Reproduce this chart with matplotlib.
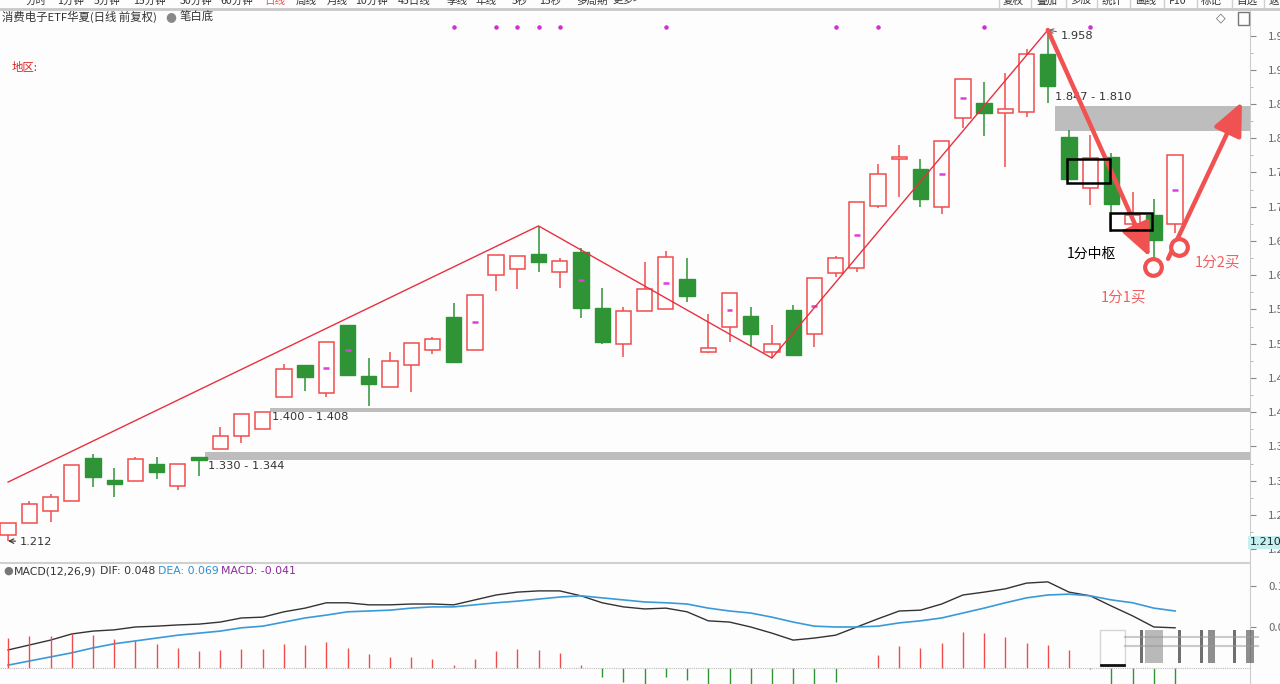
import numpy as np
import matplotlib.pyplot as plt

plt.rcParams['font.family'] = ['Noto Sans CJK SC', 'DejaVu Sans']

# daily candles
opens = [1.221, 1.238, 1.256, 1.270, 1.333, 1.301, 1.300, 1.324, 1.292, 1.331,
         1.346, 1.365, 1.376, 1.422, 1.469, 1.428, 1.527, 1.453, 1.437, 1.469,
         1.491, 1.539, 1.491, 1.600, 1.609, 1.631, 1.605, 1.634, 1.552, 1.500,
         1.548, 1.551, 1.594, 1.488, 1.524, 1.540, 1.488, 1.549, 1.514, 1.603,
         1.611, 1.701, 1.770, 1.755, 1.700, 1.830, 1.851, 1.837, 1.839, 1.923,
         1.802, 1.727, 1.773, 1.675, 1.688, 1.675]
closes = [1.238, 1.266, 1.276, 1.323, 1.305, 1.295, 1.332, 1.313, 1.324, 1.330,
          1.365, 1.397, 1.400, 1.463, 1.451, 1.502, 1.454, 1.441, 1.475, 1.501,
          1.507, 1.473, 1.571, 1.630, 1.628, 1.619, 1.621, 1.552, 1.502, 1.548,
          1.580, 1.627, 1.570, 1.494, 1.574, 1.514, 1.500, 1.484, 1.596, 1.625,
          1.707, 1.748, 1.773, 1.711, 1.796, 1.887, 1.837, 1.843, 1.923, 1.876,
          1.740, 1.771, 1.704, 1.688, 1.651, 1.775]
highs = [1.238, 1.270, 1.281, 1.323, 1.339, 1.319, 1.335, 1.335, 1.324, 1.331,
         1.378, 1.397, 1.400, 1.470, 1.469, 1.502, 1.527, 1.479, 1.488, 1.501,
         1.510, 1.559, 1.571, 1.630, 1.628, 1.672, 1.625, 1.640, 1.581, 1.554,
         1.619, 1.635, 1.625, 1.543, 1.574, 1.554, 1.527, 1.557, 1.596, 1.628,
         1.707, 1.762, 1.790, 1.770, 1.796, 1.887, 1.882, 1.895, 1.930, 1.958,
         1.812, 1.805, 1.778, 1.722, 1.711, 1.775]
lows = [1.212, 1.238, 1.240, 1.270, 1.291, 1.276, 1.300, 1.303, 1.286, 1.307,
        1.346, 1.355, 1.376, 1.422, 1.431, 1.422, 1.454, 1.409, 1.437, 1.430,
        1.485, 1.473, 1.491, 1.577, 1.580, 1.605, 1.581, 1.538, 1.500, 1.481,
        1.548, 1.551, 1.561, 1.486, 1.502, 1.495, 1.479, 1.484, 1.495, 1.597,
        1.605, 1.698, 1.714, 1.700, 1.689, 1.815, 1.803, 1.758, 1.831, 1.851,
        1.740, 1.703, 1.663, 1.656, 1.618, 1.662]

mid_marks = [15, 16, 22, 27, 31, 34, 38, 40, 44, 45, 55]
top_dots = [21, 23, 24, 25, 26, 31, 39, 41, 46, 51]

# stroke (bi) zigzag
zig_idx = [0, 25, 36, 49]
zig_price = [1.298, 1.672, 1.479, 1.958]

# MACD panel
dif = [-0.056, -0.044, -0.032, -0.017, -0.010, -0.007, 0.000, 0.002, 0.005, 0.007,
       0.012, 0.022, 0.024, 0.037, 0.046, 0.059, 0.059, 0.054, 0.054, 0.056,
       0.056, 0.054, 0.066, 0.078, 0.085, 0.088, 0.088, 0.076, 0.059, 0.049,
       0.044, 0.046, 0.037, 0.015, 0.012, 0.000, -0.015, -0.032, -0.027, -0.020,
       0.000, 0.020, 0.039, 0.041, 0.056, 0.078, 0.085, 0.093, 0.107, 0.110,
       0.085, 0.076, 0.051, 0.027, 0.000, -0.002]
dea = [-0.093, -0.083, -0.073, -0.063, -0.051, -0.041, -0.034, -0.027, -0.020, -0.015,
       -0.010, -0.002, 0.002, 0.012, 0.022, 0.029, 0.037, 0.039, 0.041, 0.046,
       0.049, 0.049, 0.054, 0.059, 0.063, 0.068, 0.073, 0.076, 0.071, 0.066,
       0.061, 0.059, 0.056, 0.046, 0.039, 0.034, 0.024, 0.012, 0.002, 0.000,
       0.000, 0.002, 0.010, 0.015, 0.022, 0.034, 0.046, 0.059, 0.071, 0.078,
       0.080, 0.076, 0.066, 0.059, 0.046, 0.039]
macd = [0.073, 0.077, 0.079, 0.085, 0.081, 0.071, 0.067, 0.059, 0.049, 0.041,
        0.043, 0.047, 0.047, 0.059, 0.056, 0.064, 0.049, 0.033, 0.027, 0.027,
        0.023, 0.008, 0.022, 0.041, 0.047, 0.045, 0.037, 0.008, -0.022, -0.033,
        -0.050, -0.022, -0.030, -0.045, -0.050, -0.050, -0.050, -0.045, -0.045, -0.033,
        0.001, 0.031, 0.054, 0.049, 0.061, 0.088, 0.085, 0.076, 0.060, 0.055,
        0.045, -0.003, -0.050, -0.050, -0.050, -0.050]

RED = '#f04c4c'
GREEN = '#2e9436'
GRAYTXT = '#333333'

W, H = 1280, 684
fig = plt.figure(figsize=(12.8, 6.84), dpi=100, facecolor='#fdfdfd')


def px(x, y):
    return x / W, 1 - y / H


# ---------------- main price panel ----------------
ax = fig.add_axes([0, 1 - 562 / H, 1250 / W, 553 / H], facecolor='#fdfdfd')
n = len(opens)
x = np.arange(n)
o, c, h, l = map(np.array, (opens, closes, highs, lows))
up = c >= o
cols = np.where(up, RED, GREEN)
bot = np.minimum(o, c)
top = np.maximum(o, c)

ax.vlines(x, l, bot, colors=cols, lw=1.1)
ax.vlines(x, top, h, colors=cols, lw=1.1)
ax.vlines(x[~up], bot[~up], top[~up], colors=GREEN, lw=1.1)
ax.bar(x[up], np.maximum(top[up] - bot[up], 0.003), bottom=bot[up], width=0.72,
       facecolor='white', edgecolor=RED, lw=1.1, zorder=3)
ax.bar(x[~up], np.maximum(top[~up] - bot[~up], 0.004), bottom=bot[~up], width=0.72,
       facecolor=GREEN, edgecolor=GREEN, lw=1, zorder=3)

mids = (o[mid_marks] + c[mid_marks]) / 2
ax.hlines(mids, x[mid_marks] - 0.14, x[mid_marks] + 0.14, colors='#e03ce0', lw=1.8, zorder=4)
ax.scatter(x[top_dots], np.full(len(top_dots), 1.962), s=5, color='#d030d0', zorder=4)

# pivot bands
xmax = 58.53
bands = [(9.3, 1.330, 1.342), (12.35, 1.400, 1.406), (49.35, 1.810, 1.847)]
for x0, lo, hi in bands:
    ax.fill_between([x0, xmax], lo, hi, color='#bdbdbd', lw=0, zorder=1)
ax.text(9.4, 1.3215, '1.330 - 1.344', fontsize=8.2, color=GRAYTXT, va='center',
        family='DejaVu Sans')
ax.text(12.45, 1.3925, '1.400 - 1.408', fontsize=8.2, color=GRAYTXT, va='center',
        family='DejaVu Sans')
ax.text(49.35, 1.853, '1.847 - 1.810', fontsize=8.2, color=GRAYTXT, va='bottom',
        family='DejaVu Sans')
ax.annotate('1.212', xy=(0.0, 1.212), xytext=(0.55, 1.211), fontsize=8.2, color=GRAYTXT,
            va='center', family='DejaVu Sans',
            arrowprops=dict(arrowstyle='->', color=GRAYTXT, lw=0.8, shrinkA=1, shrinkB=0))
ax.annotate('1.958', xy=(49, 1.958), xytext=(49.6, 1.950), fontsize=8.2, color=GRAYTXT,
            va='center', family='DejaVu Sans',
            arrowprops=dict(arrowstyle='->', color='#666666', lw=0.8, shrinkA=1, shrinkB=0))

# zigzag strokes
ax.plot(zig_idx, zig_price, color='#e83040', lw=1.0, zorder=5)

# drawn annotations
for (x0, y0), (x1, y1) in [((49, 1.958), (53.8, 1.627)), ((54.67, 1.624), (58.15, 1.853))]:
    ax.annotate('', xy=(x1, y1), xytext=(x0, y0),
                arrowprops=dict(arrowstyle='-|>,head_length=1.0,head_width=0.45',
                                mutation_scale=20, lw=3.2, color='#f05252',
                                shrinkA=0, shrinkB=0), zorder=6)
ax.plot([53.96, 55.18], [1.612, 1.641], 'o', ms=12, mfc='white', mec='#f05252',
        mew=3, zorder=7)
ax.add_patch(plt.Rectangle((49.9, 1.735), 2.03, 0.035, fill=False, ec='black', lw=1.8, zorder=6))
ax.add_patch(plt.Rectangle((51.93, 1.666), 1.97, 0.025, fill=False, ec='black', lw=1.8, zorder=6))
ax.text(49.9, 1.631, '1分中枢', fontsize=10, color='black', va='center')
ax.text(52.55, 1.568, '1分1买', fontsize=10.5, color='#f06060', va='center', ha='center')
ax.text(57.0, 1.618, '1分2买', fontsize=10.5, color='#f06060', va='center', ha='center')

ax.set_xlim(-0.38, xmax)
ax.set_ylim(1.1813, 1.9887)
ax.set_xticks([])
ax.yaxis.tick_right()
yt = np.round(np.arange(1.20, 1.951, 0.05), 2)
ax.set_yticks(yt)
ax.set_yticklabels([f'{v:.2f}' for v in yt])
ax.set_yticks(yt[:-1] + 0.025, minor=True)
ax.tick_params(axis='y', which='major', length=4, pad=9, labelsize=8.2, colors='#888888',
               labelcolor='#666666')
ax.tick_params(axis='y', which='minor', length=2.5, colors='#aaaaaa')
for s in ['top', 'left', 'bottom']:
    ax.spines[s].set_visible(False)
ax.spines['right'].set_color('#cccccc')
ax.text(1.0, 1.210, '1.210', transform=ax.get_yaxis_transform(), fontsize=8, color='#222222',
        va='center', ha='left', family='DejaVu Sans',
        bbox=dict(boxstyle='square,pad=0.15', fc='#c4f0f2', ec='none'))

# ---------------- MACD panel ----------------
axm = fig.add_axes([0, 0, 1250 / W, 121 / H], facecolor='#fdfdfd')
axh = axm.twinx()
hist = np.array(macd)
axh.vlines(x, 0, hist, colors=np.where(hist >= 0, RED, GREEN), lw=1.0)
axh.axhline(0, color='#bbbbbb', lw=0.8, ls=(0, (1, 1)))
axh.set_ylim(-0.039, 0.256)
axh.set_yticks([])
axh.axis('off')
axm.plot(x, dif, color='#333333', lw=1.0, zorder=5)
axm.plot(x, dea, color='#3a9ad8', lw=1.2, zorder=5)
axm.set_xlim(-0.38, xmax)
axm.set_ylim(-0.139, 0.156)
axm.set_xticks([])
axm.yaxis.tick_right()
axm.set_yticks([0.0, 0.1])
axm.set_yticklabels(['0.00', '0.10'])
axm.tick_params(axis='y', length=4, pad=9, labelsize=8.2, colors='#888888', labelcolor='#666666')
for s in ['top', 'left', 'bottom']:
    axm.spines[s].set_visible(False)
axm.spines['right'].set_color('#cccccc')

# watermark-like overlay in MACD area
wm = [(1140, 630, 3, 33, '#333333', 0.7), (1145, 630, 18, 33, '#666666', 0.45),
      (1178, 630, 3, 33, '#333333', 0.7), (1200, 630, 3, 33, '#333333', 0.7),
      (1208, 630, 7, 33, '#444444', 0.6), (1233, 630, 3, 33, '#333333', 0.7),
      (1246, 630, 8, 33, '#444444', 0.6)]
for x0, y0, w, hh, col, a in wm:
    fig.patches.append(plt.Rectangle(px(x0, y0 + hh), w / W, hh / H, transform=fig.transFigure,
                                     fc=col, ec='none', alpha=a))
fig.patches.append(plt.Rectangle(px(1100, 666), 25 / W, 36 / H, transform=fig.transFigure,
                                 fc='white', ec='#cccccc', lw=1, alpha=0.8))
fig.add_artist(plt.Line2D([1101 / W, 1124 / W], [1 - 665 / H, 1 - 665 / H], color='#111111', lw=2))
for yy in [637, 646]:
    fig.add_artist(plt.Line2D([1125 / W, 1258 / W], [1 - yy / H] * 2, color='#999999', lw=1.5,
                              alpha=0.5))

# ---------------- frame / UI text ----------------
fig.add_artist(plt.Line2D([0, 1], [1 - 8.5 / H] * 2, color='#c8c8c8', lw=2))
fig.add_artist(plt.Line2D([0, 1250 / W], [1 - 562.5 / H] * 2, color='#d0d0d0', lw=1.5))

tool = [('分时', 26), ('1分钟', 57), ('5分钟', 94), ('15分钟', 133), ('30分钟', 180),
        ('60分钟', 220), ('日线', 264), ('周线', 296), ('月线', 327), ('10分钟', 355),
        ('45日线', 398), ('季线', 447), ('年线', 475), ('5秒', 512), ('15秒', 539),
        ('多周期', 576), ('更多>', 612)]
for t, xx in tool:
    fig.text(*px(xx, 1), t, fontsize=7.6, color=RED if t == '日线' else '#333333', va='center')
btns = [('复权', 1003), ('叠加', 1036), ('多股', 1070), ('统计', 1102), ('画线', 1135),
        ('F10', 1169), ('标记', 1201), ('自选', 1236), ('返', 1269)]
for t, xx in btns:
    fig.text(*px(xx, 1), t, fontsize=7.6, color='#333333', va='center')
for xx in [999, 1031, 1066, 1097, 1130, 1164, 1197, 1232, 1264]:
    fig.add_artist(plt.Line2D([xx / W] * 2, [1 - 8 / H, 1], color='#cfcfcf', lw=1))

fig.text(*px(2, 17), '消费电子ETF华夏(日线 前复权)', fontsize=8.2, color='#333333', va='center')
fig.text(*px(165, 17), '●', fontsize=9, color='#888888', va='center', family='DejaVu Sans')
fig.text(*px(180, 17), '笔白底', fontsize=8.2, color='#333333', va='center')
fig.text(*px(12, 67), '地区:', fontsize=8.2, color='#dd2222', va='center')
fig.text(*px(1216, 18), '◇', fontsize=9, color='#666666', va='center', family='DejaVu Sans')
fig.patches.append(plt.Rectangle(px(1238, 25), 11 / W, 13 / H, transform=fig.transFigure,
                                 fc='none', ec='#777777', lw=1))

fig.text(*px(3, 571), '●', fontsize=8, color='#777777', va='center', family='DejaVu Sans')
parts = [('MACD(12,26,9)', 14, '#333333'), ('DIF: 0.048', 100, '#333333'),
         ('DEA: 0.069', 158, '#2f8fd0'), ('MACD: -0.041', 221, '#8a2a9a')]
for t, xx, col in parts:
    fig.text(*px(xx, 571), t, fontsize=7.8, color=col, va='center', family='DejaVu Sans')

fig.savefig('out.png', dpi=100, facecolor=fig.get_facecolor())
